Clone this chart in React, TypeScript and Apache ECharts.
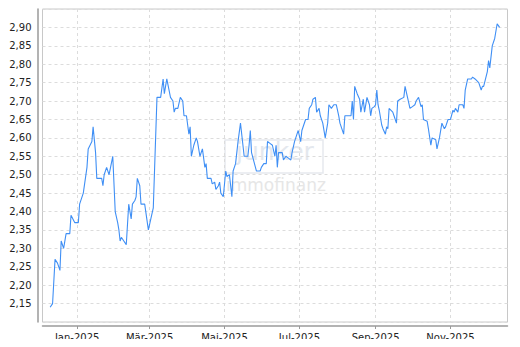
import React, { useEffect, useRef } from "react";
import * as echarts from "echarts";

const dates: string[] = [
  "2024-12-10","2024-12-12","2024-12-14","2024-12-16","2024-12-18","2024-12-19","2024-12-21","2024-12-23","2024-12-26","2024-12-27",
  "2024-12-30","2025-01-02","2025-01-03","2025-01-06","2025-01-09","2025-01-10","2025-01-13","2025-01-14","2025-01-16","2025-01-17",
  "2025-01-21","2025-01-22","2025-01-23","2025-01-25","2025-01-27","2025-01-30","2025-02-01","2025-02-03","2025-02-04","2025-02-05",
  "2025-02-06","2025-02-08","2025-02-10","2025-02-12","2025-02-14","2025-02-15","2025-02-17","2025-02-18","2025-02-19","2025-02-21",
  "2025-02-22","2025-02-25","2025-02-28","2025-03-02","2025-03-04","2025-03-07","2025-03-10","2025-03-12","2025-03-13","2025-03-15",
  "2025-03-18","2025-03-20","2025-03-21","2025-03-22","2025-03-24","2025-03-26","2025-03-28","2025-03-29","2025-03-31","2025-04-02",
  "2025-04-03","2025-04-04","2025-04-06","2025-04-08","2025-04-09","2025-04-11","2025-04-13","2025-04-15","2025-04-16","2025-04-17",
  "2025-04-20","2025-04-21","2025-04-23","2025-04-24","2025-04-26","2025-04-27","2025-04-28","2025-04-30","2025-05-02","2025-05-03",
  "2025-05-05","2025-05-07","2025-05-08","2025-05-10","2025-05-12","2025-05-14","2025-05-16","2025-05-17","2025-05-20","2025-05-21",
  "2025-05-22","2025-05-23","2025-05-25","2025-05-27","2025-05-30","2025-05-31","2025-06-02","2025-06-04","2025-06-05","2025-06-07",
  "2025-06-09","2025-06-11","2025-06-12","2025-06-13","2025-06-14","2025-06-17","2025-06-18","2025-06-20","2025-06-22","2025-06-24",
  "2025-06-25","2025-06-27","2025-06-29","2025-06-30","2025-07-02","2025-07-03","2025-07-06","2025-07-08","2025-07-09","2025-07-11",
  "2025-07-12","2025-07-14","2025-07-15","2025-07-17","2025-07-18","2025-07-20","2025-07-22","2025-07-24","2025-07-25","2025-07-27",
  "2025-07-29","2025-07-31","2025-08-02","2025-08-03","2025-08-06","2025-08-07","2025-08-10","2025-08-12","2025-08-13","2025-08-14",
  "2025-08-15","2025-08-17","2025-08-19","2025-08-20","2025-08-22","2025-08-23","2025-08-25","2025-08-27","2025-08-28","2025-08-29",
  "2025-08-31","2025-09-01","2025-09-02","2025-09-03","2025-09-04","2025-09-06","2025-09-07","2025-09-09","2025-09-10","2025-09-11",
  "2025-09-12","2025-09-15","2025-09-16","2025-09-18","2025-09-19","2025-09-21","2025-09-24","2025-09-25","2025-09-27","2025-09-29",
  "2025-10-01","2025-10-03","2025-10-04","2025-10-06","2025-10-08","2025-10-09","2025-10-10","2025-10-13","2025-10-14","2025-10-16",
  "2025-10-17","2025-10-20","2025-10-21","2025-10-23","2025-10-25","2025-10-27","2025-10-28","2025-10-30","2025-11-01","2025-11-03",
  "2025-11-04","2025-11-05","2025-11-07","2025-11-08","2025-11-11","2025-11-12","2025-11-13","2025-11-15","2025-11-18","2025-11-19",
  "2025-11-21","2025-11-24","2025-11-26","2025-11-27","2025-11-28","2025-12-01","2025-12-02","2025-12-03","2025-12-05","2025-12-07",
  "2025-12-09","2025-12-10","2025-12-11",
];

const prices: number[] = [
  2.14, 2.15, 2.27, 2.26, 2.24, 2.32, 2.30, 2.34, 2.34, 2.39,
  2.37, 2.37, 2.42, 2.45, 2.52, 2.57, 2.59, 2.63, 2.56, 2.49,
  2.49, 2.47, 2.50, 2.52, 2.50, 2.55, 2.40, 2.37, 2.35, 2.32,
  2.33, 2.32, 2.31, 2.42, 2.38, 2.42, 2.43, 2.44, 2.49, 2.47,
  2.42, 2.42, 2.35, 2.38, 2.41, 2.71, 2.71, 2.76, 2.72, 2.76,
  2.71, 2.70, 2.67, 2.68, 2.68, 2.71, 2.70, 2.66, 2.66, 2.61,
  2.63, 2.55, 2.58, 2.60, 2.59, 2.55, 2.57, 2.52, 2.53, 2.49,
  2.49, 2.475, 2.48, 2.46, 2.47, 2.48, 2.45, 2.44, 2.51, 2.495,
  2.50, 2.44, 2.51, 2.53, 2.59, 2.64, 2.58, 2.55, 2.55, 2.58,
  2.62, 2.56, 2.535, 2.51, 2.51, 2.52, 2.53, 2.53, 2.59, 2.585,
  2.58, 2.55, 2.58, 2.52, 2.56, 2.56, 2.54, 2.55, 2.545, 2.54,
  2.56, 2.59, 2.61, 2.62, 2.59, 2.62, 2.65, 2.65, 2.68, 2.69,
  2.705, 2.71, 2.67, 2.68, 2.66, 2.64, 2.60, 2.64, 2.69, 2.68,
  2.69, 2.69, 2.66, 2.64, 2.61, 2.66, 2.66, 2.66, 2.70, 2.65,
  2.74, 2.72, 2.705, 2.67, 2.705, 2.67, 2.71, 2.69, 2.66, 2.68,
  2.685, 2.69, 2.73, 2.69, 2.675, 2.635, 2.625, 2.61, 2.63, 2.625,
  2.68, 2.67, 2.66, 2.64, 2.70, 2.705, 2.71, 2.74, 2.71, 2.68,
  2.685, 2.69, 2.70, 2.71, 2.685, 2.69, 2.65, 2.645, 2.625, 2.58,
  2.60, 2.595, 2.57, 2.60, 2.64, 2.625, 2.63, 2.65, 2.65, 2.675,
  2.67, 2.68, 2.67, 2.69, 2.69, 2.68, 2.73, 2.76, 2.76, 2.765,
  2.76, 2.75, 2.73, 2.74, 2.74, 2.78, 2.81, 2.79, 2.85, 2.87,
  2.91, 2.905, 2.90,
];

const monthNames: string[] = ["Jan", "Feb", "Mär", "Apr", "Mai", "Jun", "Jul", "Aug", "Sep", "Okt", "Nov", "Dez"];
const xTickDates: string[] = ["2025-01-01", "2025-03-01", "2025-05-01", "2025-07-01", "2025-09-01", "2025-11-01"];
const xMinDate = "2024-12-03T19:00:00";
const xMaxDate = "2025-12-17T10:00:00";
const yMin = 2.1;
const yMax = 2.95;
const yStep = 0.05;

function toTime(s: string): number {
  const [d, t] = s.split("T");
  const [y, m, day] = d.split("-").map(Number);
  let h = 0;
  if (t) h = Number(t.split(":")[0]);
  return new Date(y, m - 1, day, h).getTime();
}

export default function App() {
  const ref = useRef<HTMLDivElement>(null);
  useEffect(() => {
    if (!ref.current) return;
    const chart = echarts.init(ref.current, undefined, { renderer: "svg" });
    const data = dates.map((d, i) => [toTime(d), prices[i]]);
    const ticks = xTickDates.map(toTime);
    const font = "DejaVu Sans, sans-serif";
    chart.setOption({
      animation: false,
      grid: {
        left: 42.5,
        right: 12.5,
        top: 9,
        bottom: 25,
        show: true,
        borderColor: "#c8c8c8",
        borderWidth: 1,
        containLabel: false,
      },
      xAxis: {
        type: "value",
        min: toTime(xMinDate),
        max: toTime(xMaxDate),
        offset: 4,
        axisLine: { show: true, lineStyle: { color: "#9a9a9a", width: 1.5 } },
        axisTick: { show: true, length: 3, lineStyle: { color: "#9a9a9a" }, customValues: ticks },
        axisLabel: {
          customValues: ticks,
          margin: 6,
          color: "#222",
          fontSize: 10,
          fontFamily: font,
          hideOverlap: false,
          showMinLabel: true,
          showMaxLabel: true,
          formatter: (v: number) => {
            const d = new Date(v);
            return monthNames[d.getMonth()] + "-" + d.getFullYear();
          },
        },
        splitLine: { show: true, lineStyle: { color: "#dcdcdc", type: [3, 3], width: 1 } },
      },
      yAxis: {
        type: "value",
        min: yMin,
        max: yMax,
        interval: yStep,
        offset: 5,
        axisLine: { show: true, lineStyle: { color: "#9a9a9a", width: 1.5 } },
        axisTick: { show: false },
        axisLabel: {
          margin: 6,
          color: "#222",
          fontSize: 10,
          fontFamily: font,
          showMinLabel: false,
          showMaxLabel: false,
          formatter: (v: number) => v.toFixed(2).replace(".", ","),
        },
        splitLine: { show: true, lineStyle: { color: "#dcdcdc", type: [3, 3], width: 1 } },
      },
      graphic: [
        {
          type: "group",
          z: 0,
          silent: true,
          children: [
            {
              type: "rect",
              shape: { x: 225, y: 140, width: 98, height: 33 },
              style: { fill: "none", stroke: "#e6e9ee", lineWidth: 1.5 },
            },
            {
              type: "text",
              x: 236,
              y: 164,
              style: { text: "junker", font: "25px DejaVu Sans", fill: "#e4e8ee", textVerticalAlign: "bottom" },
            },
            {
              type: "text",
              x: 226,
              y: 193,
              style: { text: "immofinanz", font: "17px DejaVu Sans", fill: "#e6e6e6", textVerticalAlign: "bottom" },
            },
          ],
        },
      ],
      series: [
        {
          type: "line",
          data,
          showSymbol: false,
          symbol: "none",
          z: 5,
          lineStyle: { color: "#3f8ff5", width: 1.1 },
        },
      ],
    });
    return () => chart.dispose();
  }, []);
  return <div ref={ref} style={{ width: 520, height: 347, margin: -8 }} />;
}
